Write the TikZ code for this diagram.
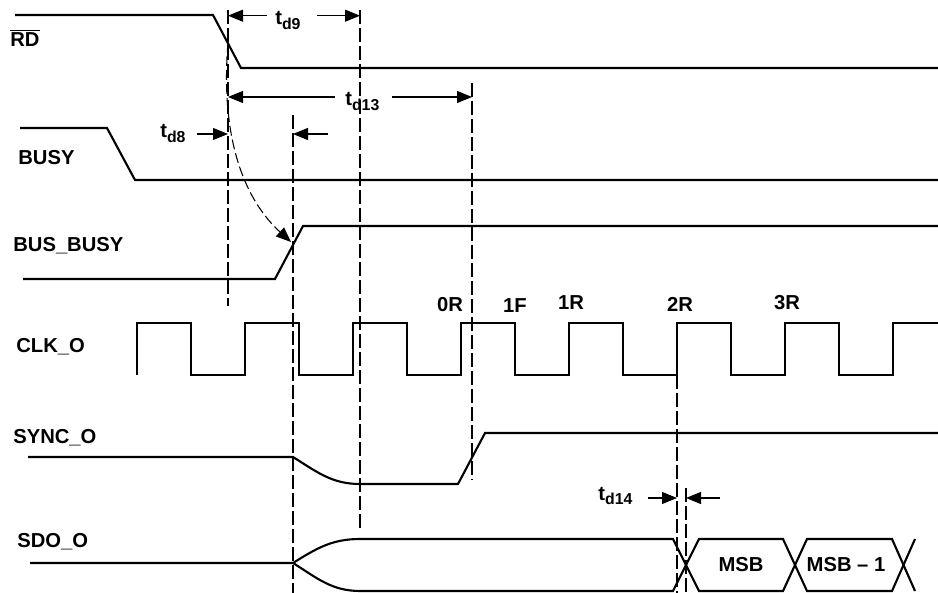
\documentclass[tikz,border=0pt]{standalone}
\usepackage{fontspec}
\setmainfont{Liberation Sans}
\usetikzlibrary{arrows.meta}

\newcommand{\tdl}[1]{t\raisebox{-2.5pt}{\fontsize{9}{10}\selectfont d#1}}

\begin{document}
\begin{tikzpicture}[x=0.2mm, y=-0.2mm,
  wave/.style={line width=1.2pt},
  guide/.style={line width=0.6pt, dash pattern=on 2.8mm off 0.8mm},
  dim/.style={line width=0.6pt, -{Triangle[length=3mm, width=2.4mm]}},
  lbl/.style={anchor=base west, inner sep=0pt, font=\bfseries\fontsize{11.5}{13}\selectfont},
  edge/.style={anchor=base, inner sep=0pt, font=\bfseries\fontsize{11.5}{13}\selectfont}]
  \useasboundingbox (0,0) rectangle (938,593);

  % Guides
  \draw[guide] (228,10) -- (228,306);
  \draw[guide] (293,115) -- (293,593);
  \draw[guide] (360,10) -- (360,530);
  \draw[guide] (472,83) -- (472,480);
  \draw[guide] (677,375) -- (677,593);
  \draw[guide] (686,488) -- (686,593);

  % Signal names
  \node[lbl] (rd) at (10,47) {$\overline{\hbox{RD}}$};
  \node[lbl] (busy) at (18,165) {BUSY};
  \node[lbl] (busbusy) at (13,252) {BUS\_BUSY};
  \node[lbl] (clko) at (16,353) {CLK\_O};
  \node[lbl] (synco) at (13,444) {SYNC\_O};
  \node[lbl] (sdoo) at (17,547) {SDO\_O};

  % Waveforms
  \draw[wave] (15,15) -- (213,15) -- (241,68) -- (938,68);
  \draw[wave] (20,128) -- (107,128) -- (135,180) -- (938,180);
  \draw[wave] (23,279) -- (275,279) -- (303,226) -- (938,226);
  \draw[wave] (137,375) -- (137,323)
    foreach \x in {191,299,...,839} { -- (\x,323) -- (\x,375) -- (\x+54,375) -- (\x+54,323) }
    -- (938,323);
  \draw[wave] (28,457) -- (293,457) to[out=-32, in=180] (360,484) -- (458,484) -- (485,433) -- (938,433);
  \draw[wave] (30,563) -- (293,563) to[out=32, in=180] (360,539) -- (673,539) -- (699,591)
    -- (783,591) -- (807,539) -- (892,539) -- (915,591);
  \draw[wave] (293,563) to[out=-32, in=180] (360,591) -- (673,591) -- (699,539)
    -- (783,539) -- (807,591) -- (892,591) -- (915,539);

  % Clock edges
  \node[edge] (e0r) at (450,312) {0R};
  \node[edge] (e1f) at (515,313) {1F};
  \node[edge] (e1r) at (571,310) {1R};
  \node[edge] (e2r) at (680,312) {2R};
  \node[edge] (e3r) at (787,310) {3R};

  % Data
  \node[edge, anchor=center] (msb) at (741,565) {MSB};
  \node[edge, anchor=center] (msb1) at (846,565) {MSB -- 1};

  % Timing
  \node[lbl] (td9) at (275,25) {\tdl{9}};
  \draw[dim] (267,15.7) -- (228,15.7);
  \draw[dim] (317,15.7) -- (360,15.7);
  \node[lbl] (td13) at (345,106) {\tdl{13}};
  \draw[dim] (335,97) -- (228,97);
  \draw[dim] (392,97) -- (472,97);
  \node[lbl] (td8) at (160,138) {\tdl{8}};
  \draw[dim] (197,134) -- (228,134);
  \draw[dim] (328,134) -- (293,134);
  \node[lbl] (td14) at (598,500) {\tdl{14}};
  \draw[dim] (648,498) -- (677,498);
  \draw[dim] (720,498) -- (686,498);

  % RD to BUS_BUSY
  \coordinate (rdfall) at (228,42);
  \coordinate (bbrise) at (291,242);
  \draw[line width=0.6pt, dash pattern=on 2mm off 0.8mm, -{Triangle[length=3mm, width=2.4mm]}]
    (rdfall) .. controls (220,140) and (245,200) .. (bbrise);
\end{tikzpicture}
\end{document}
